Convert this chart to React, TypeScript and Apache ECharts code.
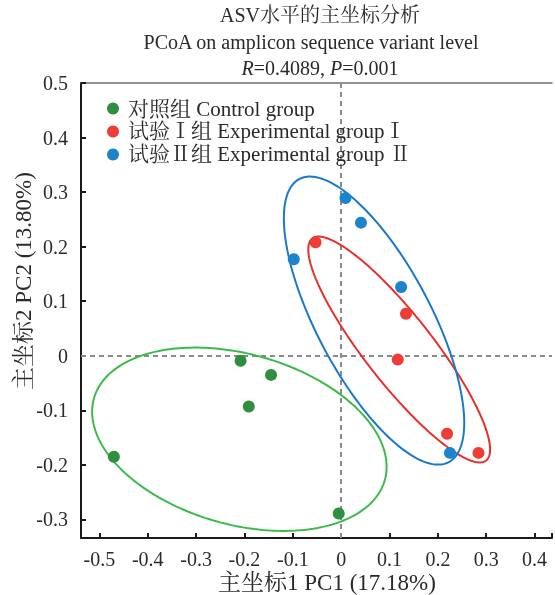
import React, { useEffect, useRef } from "react";
import * as echarts from "echarts";

// ---- data ----
const groupNames = ["对照组 Control group", "试验Ⅰ组 Experimental groupⅠ", "试验Ⅱ组 Experimental group Ⅱ"];
const pointColors = ["#2f8f3f", "#ec3d36", "#1c84cc"];
const ellipseColors = ["#3cba4b", "#e8302a", "#1a78c8"];

const controlX = [-0.208, -0.145, -0.191, -0.470, -0.005];
const controlY = [-0.009, -0.035, -0.093, -0.185, -0.289];
const exp1X = [-0.053, 0.134, 0.117, 0.219, 0.284];
const exp1Y = [0.208, 0.077, -0.007, -0.143, -0.178];
const exp2X = [0.009, 0.041, -0.098, 0.124, 0.225];
const exp2Y = [0.289, 0.244, 0.177, 0.126, -0.178];

// ellipse shape parameters (centre, half extents along x / y, correlation cosine)
const ellipseCX = [-0.2105, 0.120, 0.068];
const ellipseCY = [-0.153, 0.0115, 0.0645];
const ellipseHalfX = [0.3045, 0.188, 0.1865];
const ellipseHalfY = [0.168, 0.207, 0.264];
const ellipseCos = [-0.30, -0.885, -0.71];

const xMin = -0.538, xMax = 0.436, yMin = -0.334, yMax = 0.5;

const titleLines = ["ASV水平的主坐标分析", "PCoA on amplicon sequence variant level"];
const xName = "主坐标1 PC1 (17.18%)";
const yName = "主坐标2 PC2 (13.80%)";

const FONT = "'Liberation Serif', 'Noto Serif CJK SC', 'Noto Sans CJK SC', serif";
const TXT = "#2a2a2a";

function ellipsePoints(i: number) {
  const phi = Math.acos(ellipseCos[i]);
  const pts: number[][] = [];
  const n = 240;
  for (let k = 0; k <= n; k++) {
    const t = (2 * Math.PI * k) / n;
    pts.push([ellipseCX[i] + ellipseHalfX[i] * Math.cos(t), ellipseCY[i] + ellipseHalfY[i] * Math.cos(t - phi)]);
  }
  return pts;
}

const zip = (xs: number[], ys: number[]) => xs.map((x, i) => [x, ys[i]]);

const fmtTick = (v: number) => {
  const r = Math.round(v * 10);
  if (Math.abs(v * 10 - r) > 1e-6) return "";
  return r === 0 ? "0" : String(r / 10);
};

export default function App() {
  const ref = useRef<HTMLDivElement>(null);
  useEffect(() => {
    if (!ref.current) return;
    const chart = echarts.init(ref.current, undefined, { renderer: "svg" });
    const pointsData = [zip(controlX, controlY), zip(exp1X, exp1Y), zip(exp2X, exp2Y)];
    const series: any[] = [];
    for (let i = 0; i < 3; i++) {
      series.push({
        name: "ellipse" + i,
        type: "line",
        data: ellipsePoints(i),
        showSymbol: false,
        symbol: "none",
        smooth: false,
        lineStyle: { color: ellipseColors[i], width: 2 },
        z: 3,
        silent: true,
      });
    }
    for (let i = 0; i < 3; i++) {
      const s: any = {
        name: groupNames[i],
        type: "scatter",
        data: pointsData[i],
        symbolSize: 12,
        itemStyle: { color: pointColors[i], opacity: 1 },
        z: 5,
      };
      if (i === 0) {
        s.markLine = {
          silent: true,
          symbol: ["none", "none"],
          label: { show: false },
          lineStyle: { color: "#8a8a8a", type: [5, 4], width: 2 },
          data: [{ xAxis: 0 }, { yAxis: 0 }],
          z: 1,
        };
      }
      series.push(s);
    }
    chart.setOption({
      animation: false,
      textStyle: { fontFamily: FONT },
      grid: { left: 81, right: 0, top: 83, bottom: 57 },
      legend: {
        data: groupNames,
        orient: "vertical",
        left: 102,
        top: 93,
        icon: "circle",
        itemWidth: 12,
        itemHeight: 12,
        itemGap: 2,
        textStyle: { fontFamily: FONT, fontSize: 21, color: TXT, padding: [0, 0, 0, 4] },
      },
      xAxis: [
        {
          type: "value",
          min: xMin,
          max: xMax,
          splitNumber: 10,
          splitLine: { show: false },
          axisLine: { show: true, onZero: false, lineStyle: { color: "#1a1a1a", width: 2 } },
          axisTick: { show: true, inside: true, length: 5, lineStyle: { color: "#1a1a1a", width: 2 } },
          axisLabel: { formatter: fmtTick, fontSize: 20, color: TXT, fontFamily: FONT, margin: 11 },
        },
        {
          type: "value",
          position: "top",
          min: xMin,
          max: xMax,
          splitLine: { show: false },
          axisLine: { show: true, onZero: false, lineStyle: { color: "#6e6e6e", width: 1.5 } },
          axisTick: { show: false },
          axisLabel: { show: false },
        },
      ],
      yAxis: {
        type: "value",
        min: yMin,
        max: yMax,
        splitNumber: 8,
        splitLine: { show: false },
        axisLine: { show: true, onZero: false, lineStyle: { color: "#1a1a1a", width: 2 } },
        axisTick: { show: true, inside: true, length: 5, lineStyle: { color: "#1a1a1a", width: 2 } },
        axisLabel: { formatter: fmtTick, fontSize: 20, color: TXT, fontFamily: FONT, margin: 13 },
      },
      graphic: [
        { type: "text", x: 320, y: 15, style: { text: titleLines[0], font: `20px ${FONT}`, fill: TXT, align: "center", verticalAlign: "middle" } },
        { type: "text", x: 311, y: 42, style: { text: titleLines[1], font: `20px ${FONT}`, fill: TXT, align: "center", verticalAlign: "middle" } },
        {
          type: "text", x: 320, y: 68,
          style: {
            text: "{i|R}=0.4089, {i|P}=0.001",
            font: `20px ${FONT}`, fill: TXT, align: "center", verticalAlign: "middle",
            rich: { i: { fontStyle: "italic", fontFamily: FONT, fontSize: 20, fill: TXT } },
          },
        },
        { type: "text", x: 327, y: 582, style: { text: xName, font: `23px ${FONT}`, fill: TXT, align: "center", verticalAlign: "middle" } },
        { type: "text", x: 23, y: 281, rotation: Math.PI / 2, style: { text: yName, font: `23px ${FONT}`, fill: TXT, align: "center", verticalAlign: "middle" } },
      ],
      series,
    });
    return () => chart.dispose();
  }, []);
  return <div ref={ref} style={{ position: "fixed", left: 0, top: 0, width: 555, height: 595 }} />;
}
